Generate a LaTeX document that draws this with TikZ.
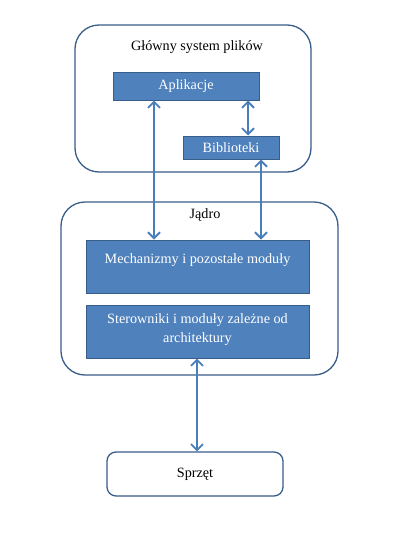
\documentclass[tikz,border=0pt]{standalone}
\usepackage{fontspec}
\setmainfont{Liberation Serif}
\usetikzlibrary{arrows.meta}
\definecolor{boxblue}{HTML}{4F81BD}
\definecolor{boxedge}{HTML}{385D8A}
\definecolor{linkblue}{HTML}{4A7EBB}
\begin{document}
\begin{tikzpicture}[x=1pt,y=-1pt,
    frame/.style={draw=boxedge, line width=1.3pt, rounded corners=24pt, fill=white},
    blk/.style={draw=boxedge, line width=1pt, fill=boxblue, text=white, align=center, inner sep=0pt},
    title/.style={text=black, inner sep=0pt},
    link/.style={draw=linkblue, line width=1.8pt, {Straight Barb[length=6pt,width=12pt]}-{Straight Barb[length=6pt,width=12pt]}}]
    \useasboundingbox (0,0) rectangle (407,541);
    \fontsize{14.2}{19}\selectfont
    % frames
    \node[frame, minimum width=236pt, minimum height=147pt] (fs) at (193,98.5) {};
    \node[frame, minimum width=277pt, minimum height=173pt] (kern) at (199.5,288.5) {};
    \node[frame, rounded corners=9pt, minimum width=176pt, minimum height=44pt] (hw) at (195,474) {Sprzęt};
    \node[title] (fstitle) at (197,47) {Główny system plików};
    \node[title] (kerntitle) at (205,215) {Jądro};
    % blue blocks
    \node[blk, minimum width=146pt, minimum height=28pt] (apl) at (186,86) {Aplikacje};
    \node[blk, minimum width=96pt, minimum height=23pt] (bib) at (231,147.5) {Biblioteki};
    \node[blk, minimum width=223pt, minimum height=53pt] (mech) at (197.5,266.5) {Mechanizmy i pozostałe moduły\\[-4pt]~};
    \node[blk, minimum width=223pt, minimum height=53pt] (ster) at (197.5,331.5) {Sterowniki i moduły zależne od\\architektury\\[-12pt]~};
    % connectors
    \coordinate (lx) at (154,0);
    \coordinate (rx) at (248,0);
    \coordinate (bx) at (261,0);
    \coordinate (dx) at (197,0);
    \draw[link] (apl.south -| lx) -- (mech.north -| lx);
    \draw[link] (apl.south -| rx) -- (bib.north -| rx);
    \draw[link] (bib.south -| bx) -- (mech.north -| bx);
    \draw[link] (ster.south -| dx) -- (hw.north -| dx);
\end{tikzpicture}
\end{document}
